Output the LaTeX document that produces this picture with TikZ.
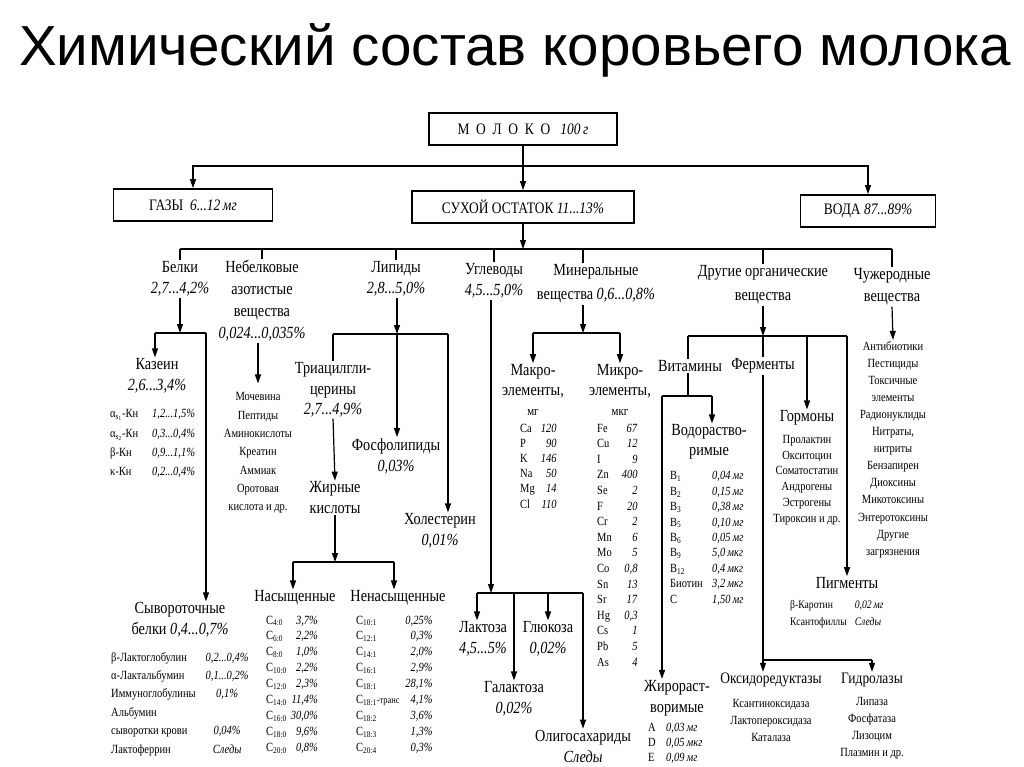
\documentclass[tikz,border=0pt]{standalone}
\usepackage{fontspec}
\setmainfont{Liberation Serif}[FakeStretch=0.84]
\newfontfamily\titlefont{Liberation Sans}
\usetikzlibrary{arrows.meta}
\newcommand\fsz[2]{\fontsize{#1pt}{#2pt}\selectfont}
\tikzset{
  arr/.style={-{Triangle[length=9pt,width=6pt]}},
  ln/.style={line width=1.2pt},
  bx/.style={draw, line width=1.8pt, inner sep=0pt, minimum height=32pt, font=\fsz{16}{19}},
  lbl/.style={align=center, inner sep=1pt, font=\fsz{17}{21}},
  sm/.style={align=center, inner sep=1pt},
  tbl/.style={inner sep=0pt, anchor=west}
}
\begin{document}
\begin{tikzpicture}[x=1pt,y=-1pt]
    \useasboundingbox (0,0) rectangle (1024,767);
    \node[font=\titlefont\fsz{56.5}{60}] (title) at (515,50) {Химический состав коровьего молока};
    % верхний уровень
    \node[bx, minimum width=188pt] (moloko) at (523,129) {М~~О~~Л~~О~~К~~О~~~\textit{100\,г}};
    \node[bx, minimum width=159pt] (gazy) at (193,205) {ГАЗЫ~~\textit{6...12\,мг}};
    \node[bx, minimum width=222pt] (suhoi) at (523,207) {СУХОЙ ОСТАТОК \textit{11...13\%}};
    \node[bx, minimum width=135pt] (voda) at (868,211) {ВОДА \textit{87...89\%}};
    \coordinate (b1) at (523,166);
    \draw[ln] (moloko.south) -- (b1);
    \draw[ln,arr] (b1) -| (gazy.north);
    \draw[ln,arr] (b1) -| (voda.north);
    \draw[ln,arr] (b1) -- (suhoi.north);
    % составные части сухого остатка
    \node[lbl] (belki) at (180,279) {Белки\\\textit{2,7...4,2\%}};
    \node[lbl, font=\fsz{17}{22}] (nebelk) at (262,301) {Небелковые\\азотистые\\вещества\\\textit{0,024...0,035\%}};
    \node[lbl] (lipidy) at (396,279) {Липиды\\\textit{2,8...5,0\%}};
    \node[lbl] (uglev) at (494,281) {Углеводы\\\textit{4,5...5,0\%}};
    \node[lbl, font=\fsz{17}{24}] (mineral) at (596,284) {Минеральные\\вещества \textit{0,6...0,8\%}};
    \node[lbl, font=\fsz{17}{24}] (drugie) at (763,285) {Другие органические\\вещества};
    \node[lbl, font=\fsz{17}{22}] (chuzh) at (892,287) {Чужеродные\\вещества};
    \coordinate (b2) at (523,249);
    \coordinate (b2m) at (583,249);
    \draw[ln,arr] (suhoi.south) -- (b2);
    \draw[ln] (b2 -| belki.north) -- (b2 -| chuzh.north);
    \foreach \n in {belki,nebelk,lipidy,uglev,drugie,chuzh}
        \draw[ln] (b2 -| \n.north) -- (\n.north);
    \draw[ln] (b2m) -- (b2m |- mineral.north);
    % белки
    \node[lbl] (kazein) at (157,376) {Казеин\\\textit{2,6...3,4\%}};
    \node[tbl, font=\fsz{12.5}{19.3}] (kaztab) at (110,443) {\begin{tabular}{@{}p{42pt}@{}l@{}}
        α\textsubscript{s\textsubscript{1}}-Кн & \textit{1,2...1,5\%}\\
        α\textsubscript{s\textsubscript{2}}-Кн & \textit{0,3...0,4\%}\\
        β-Кн & \textit{0,9...1,1\%}\\
        κ-Кн & \textit{0,2...0,4\%}
    \end{tabular}};
    \node[lbl] (syv) at (180,620) {Сывороточные\\белки \textit{0,4...0,7\%}};
    \node[tbl, font=\fsz{12.5}{18.4}] (syvtab) at (111,703.5) {\begin{tabular}{@{}l@{\hspace{10pt}}c@{}}
        β-Лактоглобулин & \textit{0,2...0,4\%}\\
        α-Лактальбумин & \textit{0,1...0,2\%}\\
        Иммуноглобулины & \textit{0,1\%}\\
        Альбумин & \\
        сыворотки крови & \textit{0,04\%}\\
        Лактоферрин & \textit{Следы}
    \end{tabular}};
    \coordinate (b3) at (180,333);
    \coordinate (b3l) at (155,333);
    \coordinate (b3r) at (206,333);
    \draw[ln,arr] (belki.south) -- (b3);
    \draw[ln] (b3l) -- (b3r);
    \draw[ln,arr] (b3l) -- (b3l |- kazein.north);
    \draw[ln,arr] (b3r) -- (b3r |- syv.north);
    % небелковые азотистые вещества
    \node[sm, font=\fsz{12.5}{18.3}] (neblist) at (258,453) {Мочевина\\Пептиды\\Аминокислоты\\Креатин\\Аммиак\\Оротовая\\кислота и др.};
    \draw[ln,arr] (neblist.north |- nebelk.south) -- ([yshift=8pt]neblist.north);
    % липиды
    \node[lbl, font=\fsz{17}{20.5}] (tri) at (333,390) {Триацилгли-\\церины\\\textit{2,7...4,9\%}};
    \node[lbl] (fosfo) at (396,456) {Фосфолипиды\\\textit{0,03\%}};
    \node[lbl] (holest) at (440,531) {Холестерин\\\textit{0,01\%}};
    \node[lbl] (zhir) at (335,498) {Жирные\\кислоты};
    \node[lbl] (nas) at (295,598) {Насыщенные};
    \node[lbl] (nenas) at (398,598) {Ненасыщенные};
    \node[tbl, font=\fsz{12.5}{15.9}] (nastab) at (266,684.5) {\begin{tabular}{@{}l@{\hspace{4pt}}r@{}}
        C\textsubscript{4:0} & \textit{3,7\%}\\
        C\textsubscript{6:0} & \textit{2,2\%}\\
        C\textsubscript{8:0} & \textit{1,0\%}\\
        C\textsubscript{10:0} & \textit{2,2\%}\\
        C\textsubscript{12:0} & \textit{2,3\%}\\
        C\textsubscript{14:0} & \textit{11,4\%}\\
        C\textsubscript{16:0} & \textit{30,0\%}\\
        C\textsubscript{18:0} & \textit{9,6\%}\\
        C\textsubscript{20:0} & \textit{0,8\%}
    \end{tabular}};
    \node[tbl, font=\fsz{12.5}{15.9}] (nenastab) at (356,684.5) {\begin{tabular}{@{}l@{\hspace{6pt}}r@{}}
        C\textsubscript{10:1} & \textit{0,25\%}\\
        C\textsubscript{12:1} & \textit{0,3\%}\\
        C\textsubscript{14:1} & \textit{2,0\%}\\
        C\textsubscript{16:1} & \textit{2,9\%}\\
        C\textsubscript{18:1} & \textit{28,1\%}\\
        C\textsubscript{18:1}{\fsz{10}{12}-транс} & \textit{4,1\%}\\
        C\textsubscript{18:2} & \textit{3,6\%}\\
        C\textsubscript{18:3} & \textit{1,3\%}\\
        C\textsubscript{20:4} & \textit{0,3\%}
    \end{tabular}};
    \coordinate (b4) at (397,334);
    \coordinate (b4l) at (333,334);
    \coordinate (b4r) at (448,334);
    \draw[ln,arr] (b4 |- lipidy.south) -- (b4);
    \draw[ln] (b4l) -- (b4r);
    \draw[ln] (b4l) -- (tri.north);
    \draw[ln,arr] (b4) -- (b4 |- fosfo.north);
    \draw[ln,arr] (b4r) -- (b4r |- holest.north);
    \draw[ln,arr] (tri.south) -- (zhir.north);
    \coordinate (b5) at (335,562);
    \coordinate (b5l) at (293,562);
    \coordinate (b5r) at (394,562);
    \draw[ln,arr] (zhir.south) -- (b5);
    \draw[ln] (b5l) -- (b5r);
    \draw[ln,arr] (b5l) -- (b5l |- nas.north);
    \draw[ln,arr] (b5r) -- (b5r |- nenas.north);
    % углеводы
    \node[lbl] (laktoza) at (483,639) {Лактоза\\\textit{4,5...5\%}};
    \node[lbl] (gluk) at (548,639) {Глюкоза\\\textit{0,02\%}};
    \node[lbl] (galakt) at (514,699) {Галактоза\\\textit{0,02\%}};
    \node[lbl] (oligo) at (583,746) {Олигосахариды\\\textit{Следы}};
    \coordinate (b6) at (491,593);
    \coordinate (b6l) at (477,593);
    \coordinate (b6r) at (583,593);
    \draw[ln,arr] (b6 |- uglev.south) -- (b6);
    \draw[ln] (b6l) -- (b6r);
    \draw[ln,arr] (b6l) -- (b6l |- laktoza.north);
    \draw[ln,arr] (b6 -| galakt.north) -- (galakt.north);
    \draw[ln,arr] (b6 -| gluk.north) -- (gluk.north);
    \draw[ln,arr] (b6r) -- (b6r |- oligo.north);
    % минеральные вещества
    \node[lbl, font=\fsz{17}{20}] (makro) at (533,390) {Макро-\\элементы,\\{\fsz{13}{20}мг}};
    \node[lbl, font=\fsz{17}{20}] (mikro) at (620,390) {Микро-\\элементы,\\{\fsz{13}{20}мкг}};
    \node[tbl, font=\fsz{12.5}{15.2}] (makrotab) at (520,467) {\begin{tabular}{@{}l@{\hspace{6pt}}r@{}}
        Ca & \textit{120}\\ P & \textit{90}\\ K & \textit{146}\\
        Na & \textit{50}\\ Mg & \textit{14}\\ Cl & \textit{110}
    \end{tabular}};
    \node[tbl, font=\fsz{12.5}{15.6}] (mikrotab) at (597,546) {\begin{tabular}{@{}l@{\hspace{10pt}}r@{}}
        Fe & \textit{67}\\ Cu & \textit{12}\\ I & \textit{9}\\ Zn & \textit{400}\\
        Se & \textit{2}\\ F & \textit{20}\\ Cr & \textit{2}\\ Mn & \textit{6}\\
        Mo & \textit{5}\\ Co & \textit{0,8}\\ Sn & \textit{13}\\ Sr & \textit{17}\\
        Hg & \textit{0,3}\\ Cs & \textit{1}\\ Pb & \textit{5}\\ As & \textit{4}
    \end{tabular}};
    \coordinate (b7) at (583,333);
    \coordinate (b7l) at (533,333);
    \coordinate (b7r) at (620,333);
    \draw[ln,arr] (b7 |- mineral.south) -- (b7);
    \draw[ln] (b7l) -- (b7r);
    \draw[ln,arr] (b7l) -- (makro.north);
    \draw[ln,arr] (b7r) -- (mikro.north);
    % другие органические вещества
    \node[lbl] (vitam) at (690,366) {Витамины};
    \node[lbl] (ferm) at (763,366) {Ферменты};
    \node[lbl] (gorm) at (807,418) {Гормоны};
    \node[sm, font=\fsz{12.5}{15.8}] (gormlist) at (807,480) {Пролактин\\Окситоцин\\Соматостатин\\Андрогены\\Эстрогены\\Тироксин и др.};
    \node[lbl] (pigm) at (847,583) {Пигменты};
    \node[tbl, font=\fsz{11.5}{17}] (pigmtab) at (790,613.5) {\begin{tabular}{@{}l@{\hspace{8pt}}l@{}}
        β-Каротин & \textit{0,02\,мг}\\ Ксантофиллы & \textit{Следы}
    \end{tabular}};
    \node[lbl, font=\fsz{17}{20}] (vodor) at (709,442) {Водораство-\\римые};
    \node[tbl, font=\fsz{12.5}{15.4}] (vodortab) at (670,538.5) {\begin{tabular}{@{}p{42pt}@{}l@{}}
        B\textsubscript{1} & \textit{0,04\,мг}\\ B\textsubscript{2} & \textit{0,15\,мг}\\
        B\textsubscript{3} & \textit{0,38\,мг}\\ B\textsubscript{5} & \textit{0,10\,мг}\\
        B\textsubscript{6} & \textit{0,05\,мг}\\ B\textsubscript{9} & \textit{5,0\,мкг}\\
        B\textsubscript{12} & \textit{0,4\,мкг}\\ Биотин & \textit{3,2\,мкг}\\
        C & \textit{1,50\,мг}
    \end{tabular}};
    \node[lbl, font=\fsz{17}{21}] (zhiror) at (677,698) {Жирораст-\\воримые};
    \node[tbl, font=\fsz{12.5}{15}] (zhirtab) at (648,743) {\begin{tabular}{@{}p{18pt}@{}l@{}}
        A & \textit{0,03\,мг}\\ D & \textit{0,05\,мкг}\\ E & \textit{0,09\,мг}
    \end{tabular}};
    \node[lbl, font=\fsz{16}{20}] (oksid) at (771,680) {Оксидоредуктазы};
    \node[lbl, font=\fsz{16}{20}] (gidro) at (872,680) {Гидролазы};
    \node[sm, font=\fsz{12.5}{17}] (oksidlist) at (771,720) {Ксантиноксидаза\\Лактопероксидаза\\Каталаза};
    \node[sm, font=\fsz{12.5}{17}] (gidrolist) at (872,728.5) {Липаза\\Фосфатаза\\Лизоцим\\Плазмин и др.};
    \coordinate (b8) at (763,336);
    \coordinate (b8l) at (688,336);
    \coordinate (b8a) at (807,336);
    \coordinate (b8r) at (847,336);
    \draw[ln,arr] (drugie.south) -- (b8);
    \draw[ln] (b8l) -- (b8r);
    \draw[ln] (b8l) -- (b8l |- vitam.north);
    \draw[ln] (b8) -- (ferm.north);
    \draw[ln,arr] (b8a) -- (gorm.north);
    \draw[ln,arr] (b8r) -- (b8r |- pigm.north);
    \coordinate (b9) at (688,396);
    \coordinate (b9l) at (662,396);
    \coordinate (b9r) at (712,396);
    \draw[ln] (b9 |- vitam.south) -- (b9);
    \draw[ln] (b9l) -- (b9r);
    \draw[ln,arr] (b9r) -- (b9r |- vodor.north);
    \draw[ln,arr] (b9l) -- (b9l |- zhiror.north);
    \coordinate (b10) at (763,660);
    \coordinate (b10r) at (872,660);
    \draw[ln] (ferm.south) -- (b10);
    \draw[ln] (b10) -- (b10r);
    \draw[ln,arr] (b10) -- (b10 |- oksid.north);
    \draw[ln,arr] (b10r) -- (gidro.north);
    % чужеродные вещества
    \node[sm, font=\fsz{12.5}{17.1}] (chuzhlist) at (893,449.5) {Антибиотики\\Пестициды\\Токсичные\\элементы\\Радионуклиды\\Нитраты,\\нитриты\\Бензапирен\\Диоксины\\Микотоксины\\Энтеротоксины\\Другие\\загрязнения};
    \draw[ln,arr] (chuzh.south) -- (chuzhlist.north);
\end{tikzpicture}
\end{document}
